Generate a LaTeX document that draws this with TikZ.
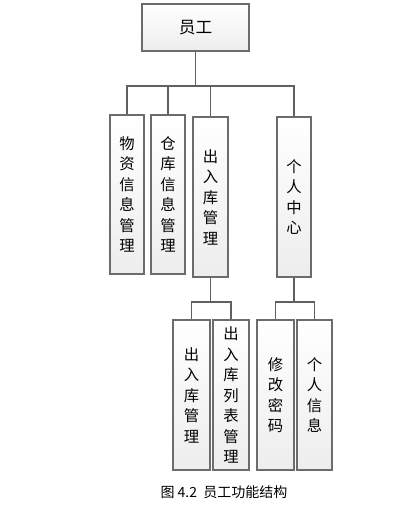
\documentclass[tikz,border=0pt]{standalone}
\usepackage{fontspec}
\setmainfont{Noto Sans CJK SC}
\usetikzlibrary{shadows}

\tikzset{
  box/.style={draw=gray!85!black, line width=1.3pt, rectangle, inner sep=0pt,
    top color=white, bottom color=gray!14, align=center,
    font=\fontsize{11.5}{15.4}\selectfont,
    drop shadow={shadow xshift=0.8pt, shadow yshift=-0.8pt, opacity=0.25}},
  link/.style={draw=gray!75!black, line width=1.1pt}
}

\begin{document}
\begin{tikzpicture}[x=0.75pt, y=-0.75pt]
  \useasboundingbox (0, 0) rectangle (415, 508);
  % top
  \node[box, minimum width=80pt, minimum height=35pt,
        font=\fontsize{12.5}{15}\selectfont] (yg) at (195.5, 27.5) {员工};
  % second row
  \node[box, minimum width=25.5pt, minimum height=119pt] (wz) at (127, 194.5) {物\\资\\信\\息\\管\\理};
  \node[box, minimum width=25.5pt, minimum height=119pt] (ck) at (168, 194.5) {仓\\库\\信\\息\\管\\理};
  \node[box, minimum width=26pt, minimum height=120pt] (cr) at (210.5, 197) {出\\入\\库\\管\\理};
  \node[box, minimum width=25.5pt, minimum height=120pt] (gr) at (294, 197) {个\\人\\中\\心};
  % third row
  \node[box, minimum width=27.5pt, minimum height=112pt] (crgl) at (191.5, 395) {出\\入\\库\\管\\理};
  \node[box, minimum width=27pt, minimum height=112pt] (crlb) at (231, 395) {出\\入\\库\\列\\表\\管\\理};
  \node[box, minimum width=27.5pt, minimum height=112pt] (xg) at (275.5, 395) {修\\改\\密\\码};
  \node[box, minimum width=26pt, minimum height=112pt] (grxx) at (314.5, 395) {个\\人\\信\\息};

  % connectors
  \coordinate (bus) at (195.5, 86);
  \draw[link] (yg.south) -- (bus);
  \draw[link] (wz.north) |- (bus) -| (gr.north);
  \foreach \n in {ck, cr}
    \draw[link] (\n.north) -- (\n.north |- bus);

  \coordinate (bus2) at (210.5, 302);
  \draw[link] (cr.south) -- (bus2);
  \draw[link] (crgl.north) |- (bus2) -| (crlb.north);

  \coordinate (bus3) at (294, 302);
  \draw[link] (gr.south) -- (bus3);
  \draw[link] (xg.north) |- (bus3) -| (grxx.north);

  % caption
  \node[font=\fontsize{10.5}{12}\selectfont] (cap) at (224, 492) {图 4.2\ \ 员工功能结构};
\end{tikzpicture}
\end{document}
